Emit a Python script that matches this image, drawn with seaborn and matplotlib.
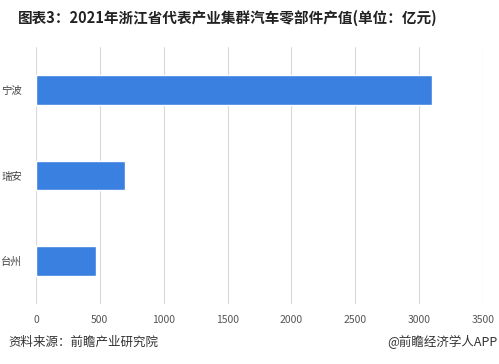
import matplotlib
matplotlib.use("Agg")
import matplotlib.pyplot as plt
import seaborn as sns
import pandas as pd

categories = ["宁波", "瑞安", "台州"]
values = [3100, 700, 470]
xticks = [0, 500, 1000, 1500, 2000, 2500, 3000, 3500]

sns.set_theme(style="white")
plt.rcParams['font.family'] = ['Noto Sans CJK SC', 'DejaVu Sans']

df = pd.DataFrame({"city": categories, "value": values})

fig = plt.figure(figsize=(4.99, 3.64), dpi=100)
ax = fig.add_axes([36/499, 1-304/364, (483-36)/499, (304-47)/364])
sns.barplot(data=df, y="city", x="value", orient="h", color="#3a80e0",
            saturation=1, width=0.35, ax=ax, zorder=3)
ax.set_xlim(0, 3500)
ax.set_xticks(xticks)
ax.set_xticklabels([str(t) for t in xticks], fontsize=7.5, color="#555555")
ax.tick_params(axis="y", labelsize=7.5, colors="#444444", length=0, pad=10)
ax.tick_params(axis="x", length=0, pad=8)
ax.grid(axis="x", color="#dadada", linewidth=0.8, zorder=0)
ax.set_axisbelow(True)
for s in ax.spines.values():
    s.set_visible(False)
ax.set_xlabel("")
ax.set_ylabel("")

fig.text(18/499, 1-18/364, "图表3：2021年浙江省代表产业集群汽车零部件产值(单位：亿元)",
         fontsize=10.5, fontweight="bold", color="#222222", va="center", ha="left")
fig.text(8/499, 1-342/364, "资料来源：前瞻产业研究院", fontsize=9, color="#333333",
         va="center", ha="left")
fig.text(497/499, 1-342/364, "@前瞻经济学人APP", fontsize=9, color="#333333",
         va="center", ha="right")

fig.savefig("out.png", dpi=100)
